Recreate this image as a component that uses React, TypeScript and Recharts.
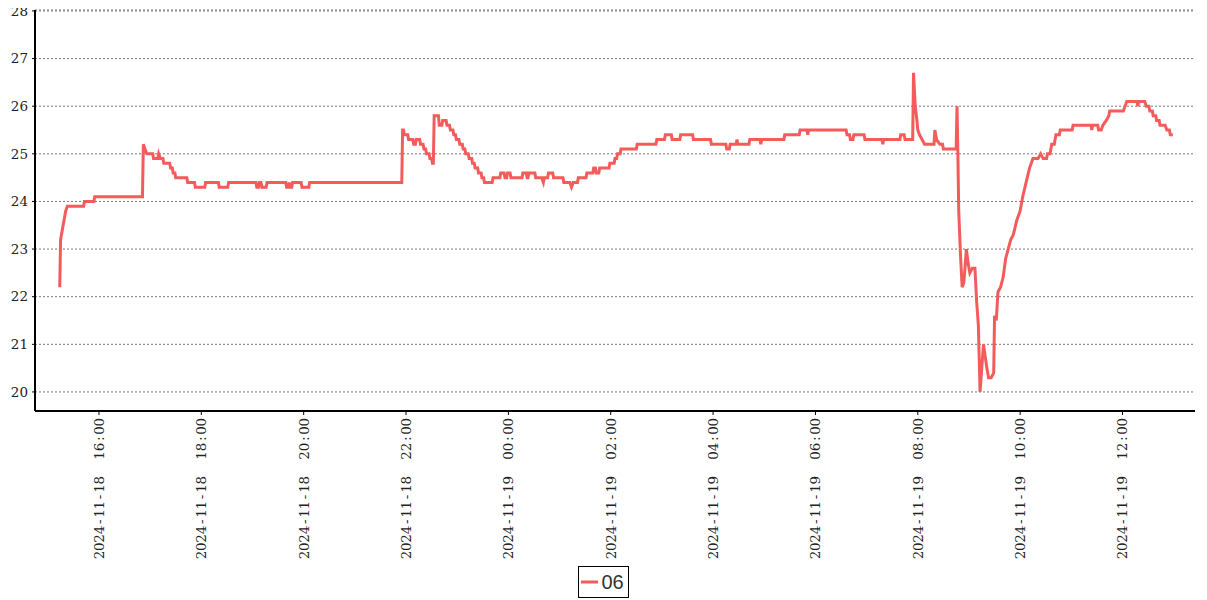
import { CartesianGrid, Legend, Line, LineChart, XAxis, YAxis } from "recharts";

// readings of sensor "06", [time, °C]
const nov18: [string, number][] = [
  ["15:14", 22.2], ["15:15", 23.2], ["15:17", 23.4], ["15:18", 23.5], ["15:20", 23.7], ["15:21", 23.8], ["15:23", 23.9],
  ["15:42", 23.9], ["15:43", 24.0], ["15:54", 24.0], ["15:55", 24.1],
  ["16:51", 24.1], ["16:52", 25.2], ["16:54", 25.1], ["16:56", 25.0], ["17:03", 25.0], ["17:04", 24.9], ["17:09", 24.9],
  ["17:10", 25.0], ["17:12", 24.9], ["17:15", 24.9], ["17:16", 24.8], ["17:23", 24.8], ["17:24", 24.7], ["17:26", 24.7],
  ["17:27", 24.6], ["17:29", 24.6], ["17:30", 24.5], ["17:43", 24.5], ["17:44", 24.4], ["17:52", 24.4], ["17:53", 24.3],
  ["18:04", 24.3], ["18:05", 24.4], ["18:20", 24.4], ["18:21", 24.3], ["18:31", 24.3], ["18:32", 24.4],
  ["19:04", 24.4], ["19:05", 24.3], ["19:07", 24.3], ["19:08", 24.4], ["19:10", 24.4], ["19:11", 24.3], ["19:16", 24.3],
  ["19:17", 24.4], ["19:39", 24.4], ["19:40", 24.3], ["19:42", 24.3], ["19:43", 24.4], ["19:44", 24.3], ["19:46", 24.3],
  ["19:47", 24.4], ["19:57", 24.4], ["19:58", 24.3], ["20:06", 24.3], ["20:07", 24.4],
  ["21:55", 24.4], ["21:56", 25.5], ["21:57", 25.5], ["21:58", 25.4], ["22:02", 25.4], ["22:03", 25.3], ["22:08", 25.3],
  ["22:09", 25.2], ["22:11", 25.2], ["22:12", 25.3], ["22:16", 25.3], ["22:17", 25.2], ["22:20", 25.2], ["22:21", 25.1],
  ["22:23", 25.1], ["22:24", 25.0], ["22:27", 25.0], ["22:28", 24.9], ["22:30", 24.9], ["22:31", 24.8], ["22:32", 24.8],
  ["22:33", 25.8], ["22:38", 25.8], ["22:39", 25.6], ["22:42", 25.6], ["22:43", 25.7], ["22:47", 25.7], ["22:48", 25.6],
  ["22:51", 25.6], ["22:52", 25.5], ["22:55", 25.5], ["22:56", 25.4], ["22:58", 25.4], ["22:59", 25.3], ["23:02", 25.3],
  ["23:03", 25.2], ["23:06", 25.2], ["23:07", 25.1], ["23:09", 25.1], ["23:10", 25.0], ["23:13", 25.0], ["23:14", 24.9],
  ["23:17", 24.9], ["23:18", 24.8], ["23:20", 24.8], ["23:21", 24.7], ["23:24", 24.7], ["23:25", 24.6], ["23:28", 24.6],
  ["23:29", 24.5], ["23:31", 24.5], ["23:32", 24.4], ["23:41", 24.4], ["23:42", 24.5], ["23:50", 24.5], ["23:51", 24.6],
  ["23:55", 24.6], ["23:56", 24.5], ["23:58", 24.5], ["23:59", 24.6],
];

const nov19: [string, number][] = [
  ["00:02", 24.6], ["00:03", 24.5], ["00:16", 24.5], ["00:17", 24.6], ["00:21", 24.6], ["00:22", 24.5], ["00:23", 24.5],
  ["00:24", 24.6], ["00:31", 24.6], ["00:32", 24.5], ["00:39", 24.5], ["00:41", 24.4], ["00:42", 24.5], ["00:46", 24.5],
  ["00:47", 24.6], ["00:52", 24.6], ["00:53", 24.5], ["01:04", 24.5], ["01:05", 24.4], ["01:12", 24.4], ["01:14", 24.3],
  ["01:16", 24.4], ["01:21", 24.4], ["01:22", 24.5], ["01:31", 24.5], ["01:32", 24.6], ["01:39", 24.6], ["01:40", 24.7],
  ["01:42", 24.7], ["01:43", 24.6], ["01:46", 24.6], ["01:47", 24.7], ["01:58", 24.7], ["01:59", 24.8], ["02:04", 24.8],
  ["02:05", 24.9], ["02:07", 24.9], ["02:08", 25.0], ["02:11", 25.0], ["02:12", 25.1], ["02:30", 25.1], ["02:31", 25.2],
  ["02:53", 25.2], ["02:54", 25.3], ["03:03", 25.3], ["03:04", 25.4], ["03:11", 25.4], ["03:12", 25.3], ["03:21", 25.3],
  ["03:22", 25.4], ["03:36", 25.4], ["03:37", 25.3], ["03:57", 25.3], ["03:58", 25.2], ["04:15", 25.2], ["04:16", 25.1],
  ["04:19", 25.1], ["04:20", 25.2], ["04:27", 25.2], ["04:28", 25.3], ["04:29", 25.2], ["04:42", 25.2], ["04:43", 25.3],
  ["04:55", 25.3], ["04:56", 25.2], ["04:57", 25.3], ["05:23", 25.3], ["05:24", 25.4], ["05:41", 25.4], ["05:42", 25.5],
  ["05:50", 25.5], ["05:51", 25.4], ["05:52", 25.5], ["06:36", 25.5], ["06:37", 25.4], ["06:40", 25.4], ["06:41", 25.3],
  ["06:44", 25.3], ["06:45", 25.4], ["06:57", 25.4], ["06:58", 25.3], ["07:18", 25.3], ["07:19", 25.2], ["07:20", 25.3],
  ["07:39", 25.3], ["07:40", 25.4], ["07:44", 25.4], ["07:45", 25.3], ["07:54", 25.3], ["07:55", 26.7], ["07:57", 26.0],
  ["07:59", 25.7], ["08:00", 25.5], ["08:02", 25.4], ["08:05", 25.3], ["08:08", 25.2], ["08:19", 25.2], ["08:20", 25.5],
  ["08:22", 25.3], ["08:26", 25.2], ["08:29", 25.2], ["08:30", 25.1], ["08:45", 25.1], ["08:46", 26.0], ["08:47", 25.0],
  ["08:48", 23.8], ["08:50", 22.9], ["08:52", 22.2], ["08:54", 22.3], ["08:57", 23.0], ["08:59", 22.7], ["09:01", 22.5],
  ["09:04", 22.6], ["09:07", 22.6], ["09:09", 21.9], ["09:11", 21.4], ["09:13", 20.0], ["09:17", 21.0], ["09:21", 20.5],
  ["09:23", 20.3], ["09:26", 20.3], ["09:29", 20.4], ["09:30", 21.6], ["09:32", 21.5], ["09:34", 22.1], ["09:37", 22.2],
  ["09:40", 22.4], ["09:43", 22.8], ["09:46", 23.0], ["09:49", 23.2], ["09:52", 23.3], ["09:56", 23.6], ["10:00", 23.8],
  ["10:03", 24.1], ["10:07", 24.4], ["10:11", 24.7], ["10:15", 24.9], ["10:21", 24.9], ["10:24", 25.0], ["10:27", 24.9],
  ["10:31", 24.9], ["10:32", 25.0], ["10:35", 25.0], ["10:36", 25.1], ["10:37", 25.2], ["10:40", 25.2], ["10:41", 25.3],
  ["10:42", 25.4], ["10:46", 25.4], ["10:47", 25.5], ["11:01", 25.5], ["11:02", 25.6], ["11:23", 25.6], ["11:24", 25.5],
  ["11:25", 25.6], ["11:31", 25.6], ["11:32", 25.5], ["11:35", 25.5], ["11:37", 25.6], ["11:41", 25.7], ["11:44", 25.8],
  ["11:45", 25.9], ["12:01", 25.9], ["12:03", 26.0], ["12:05", 26.1], ["12:17", 26.1], ["12:18", 26.0], ["12:19", 26.1],
  ["12:26", 26.1], ["12:28", 26.0], ["12:31", 26.0], ["12:32", 25.9], ["12:35", 25.9], ["12:36", 25.8], ["12:39", 25.8],
  ["12:40", 25.7], ["12:43", 25.7], ["12:44", 25.6], ["12:50", 25.6], ["12:52", 25.5], ["12:55", 25.5], ["12:56", 25.4],
  ["12:59", 25.4],
];

const hourTicks = [
  "2024-11-18 16:00", "2024-11-18 18:00", "2024-11-18 20:00", "2024-11-18 22:00",
  "2024-11-19 00:00", "2024-11-19 02:00", "2024-11-19 04:00", "2024-11-19 06:00",
  "2024-11-19 08:00", "2024-11-19 10:00", "2024-11-19 12:00",
];
const tempTicks = [20, 21, 22, 23, 24, 25, 26, 27, 28];
const xRange = ["2024-11-18 14:45", "2024-11-19 13:25"];
const seriesName = "06";

const LINE = "#f45b5b";
const FONT = "'DejaVu Serif', serif";
const CELL = 8.3; // tick labels are laid out on a fixed character grid

const toMs = (s: string) => {
  const [d, t] = s.split(" ");
  const [y, mo, day] = d.split("-").map(Number);
  const [h, mi] = t.split(":").map(Number);
  return Date.UTC(y, mo - 1, day, h, mi);
};

const pad = (n: number) => String(n).padStart(2, "0");
const fmtTime = (ms: number) => {
  const d = new Date(ms);
  return `${d.getUTCFullYear()}-${pad(d.getUTCMonth() + 1)}-${pad(d.getUTCDate())}  ${pad(d.getUTCHours())}:${pad(d.getUTCMinutes())}`;
};

const data = [
  ...nov18.map(([t, v]) => ({ t: toMs("2024-11-18 " + t), v })),
  ...nov19.map(([t, v]) => ({ t: toMs("2024-11-19 " + t), v })),
];

const TimeTick = ({ x, y, payload }: any) => {
  const label = fmtTime(payload.value);
  const n = label.length;
  const xs = label
    .split("")
    .map((_, i) => (-(n - i - 0.5) * CELL).toFixed(2))
    .join(" ");
  return (
    <g transform={`translate(${x},${y}) rotate(-90)`}>
      <text
        x={xs}
        y={0}
        dy="0.36em"
        textAnchor="middle"
        fill="#222"
        fontFamily={FONT}
        fontSize={13.5}
        style={{ whiteSpace: "pre" }}
      >
        {label}
      </text>
    </g>
  );
};

const LegendBox = () => (
  <div style={{ display: "flex", justifyContent: "center", paddingLeft: 4 }}>
    <div
      style={{
        display: "inline-flex",
        alignItems: "center",
        boxSizing: "border-box",
        height: 32,
        border: "1px solid #000",
        padding: "0 4px 0 2px",
        fontFamily: "'Liberation Sans', sans-serif",
        fontSize: 20,
        color: "#333",
      }}
    >
      <svg width={17} height={4}>
        <line x1={0} y1={2} x2={17} y2={2} stroke={LINE} strokeWidth={3} />
      </svg>
      <span style={{ marginLeft: 3 }}>{seriesName}</span>
    </div>
  </div>
);

export default function App() {
  return (
    <div style={{ marginTop: -8 }}>
      <LineChart
        width={1191}
        height={600}
        data={data}
        margin={{ top: 10, right: 4, bottom: 0, left: 0 }}
      >
        <CartesianGrid vertical={false} stroke="#777" strokeDasharray="2 2" />
        <XAxis
          dataKey="t"
          type="number"
          scale="time"
          domain={[toMs(xRange[0]), toMs(xRange[1])]}
          allowDataOverflow
          ticks={hourTicks.map(toMs)}
          interval={0}
          height={155}
          tick={<TimeTick />}
          tickSize={4}
          tickMargin={3}
          axisLine={{ stroke: "#000", strokeWidth: 2 }}
          tickLine={{ stroke: "#000" }}
        />
        <YAxis
          type="number"
          domain={[19.6, 28.02]}
          allowDataOverflow
          ticks={tempTicks}
          interval={0}
          width={27}
          tickSize={3}
          tickMargin={4}
          tick={{ fill: "#222", fontFamily: FONT, fontSize: 13.5 }}
          axisLine={{ stroke: "#000", strokeWidth: 2 }}
          tickLine={{ stroke: "#000" }}
        />
        <Legend
          verticalAlign="bottom"
          align="center"
          wrapperStyle={{ height: 34 }}
          content={() => <LegendBox />}
        />
        <Line
          type="linear"
          dataKey="v"
          name={seriesName}
          stroke={LINE}
          strokeWidth={3}
          dot={false}
          isAnimationActive={false}
        />
      </LineChart>
    </div>
  );
}
